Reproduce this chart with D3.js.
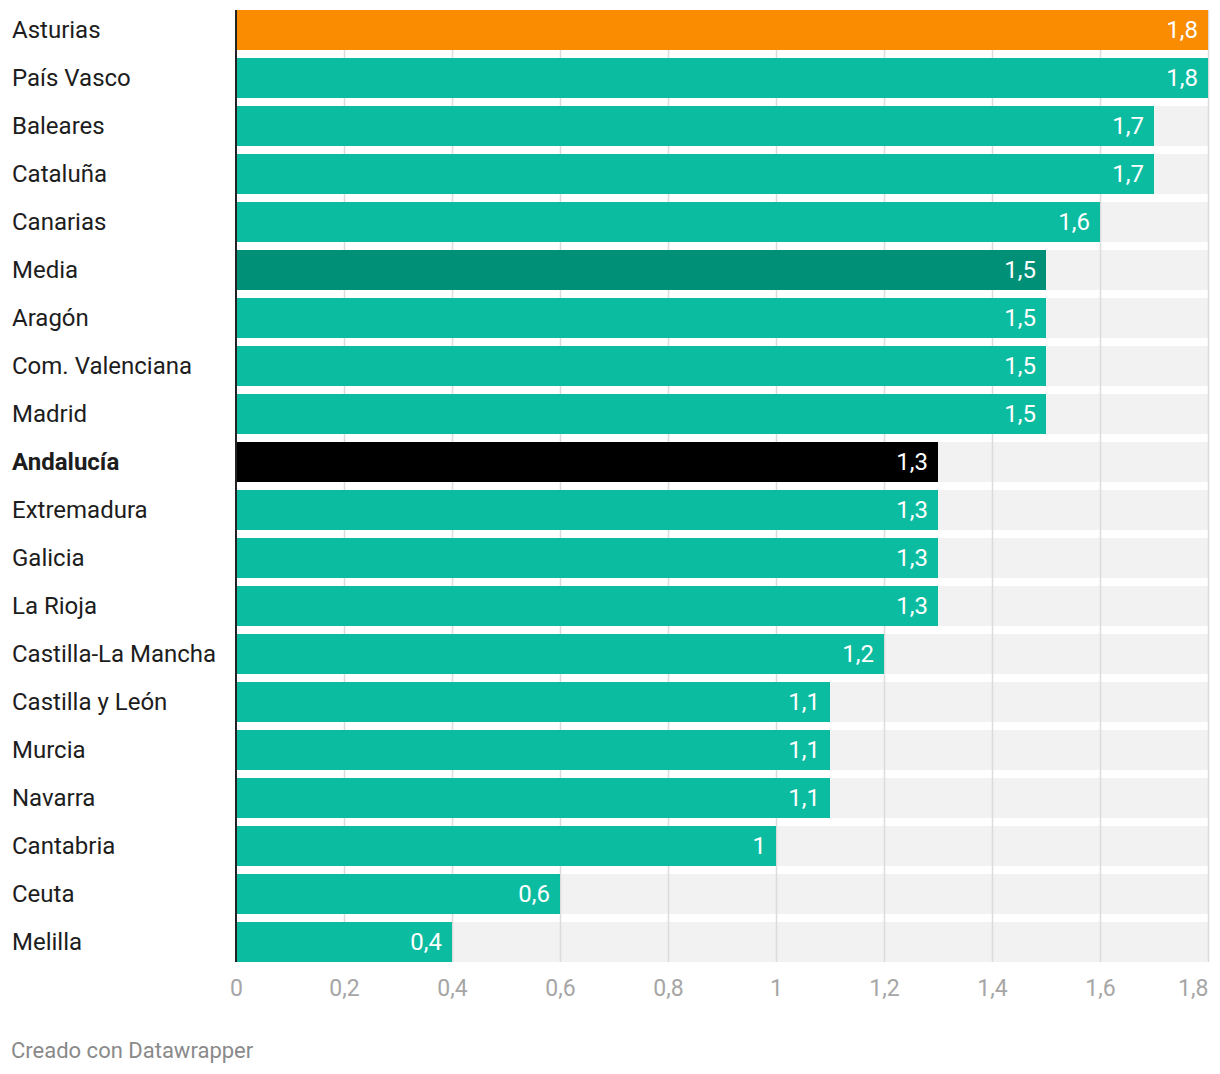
<!DOCTYPE html>
<html><head><meta charset="utf-8">
<script src="https://cdn.jsdelivr.net/npm/d3@7"></script>
<style>body{margin:0;background:#fff;font-family:Roboto,sans-serif;}</style>
</head><body>
<svg id="chart" width="1220" height="1074"></svg>
<script>
const categories = ["Asturias","País Vasco","Baleares","Cataluña","Canarias","Media","Aragón","Com. Valenciana","Madrid","Andalucía","Extremadura","Galicia","La Rioja","Castilla-La Mancha","Castilla y León","Murcia","Navarra","Cantabria","Ceuta","Melilla"];
const values = [1.8,1.8,1.7,1.7,1.6,1.5,1.5,1.5,1.5,1.3,1.3,1.3,1.3,1.2,1.1,1.1,1.1,1,0.6,0.4];
const tickValues = [0,0.2,0.4,0.6,0.8,1,1.2,1.4,1.6,1.8];
const highlight = {"Asturias":"#f98c00","Media":"#008f77","Andalucía":"#000000"};
const boldLabels = ["Andalucía"];

(function(){
const svg = d3.select("#chart");
const mLeft = 236, mRight = 1208, mTop = 10, rowH = 48, gap = 8;
const x = d3.scaleLinear().domain([0,1.8]).range([mLeft,mRight]);
const y = d3.scaleBand().domain(categories)
  .range([mTop, mTop + rowH*categories.length - gap]).paddingInner(gap/rowH).paddingOuter(0);
const bH = y.bandwidth();
const fmt = v => String(v).replace(".", ",");

// background rows
svg.append("g").selectAll("rect").data(categories).join("rect")
  .attr("x", mLeft).attr("y", d => y(d)).attr("width", mRight-mLeft).attr("height", bH)
  .attr("fill", "#f2f2f2");

// gridlines
const bottom = y(categories[categories.length-1]) + bH;
svg.append("g").selectAll("line").data(tickValues.slice(1)).join("line")
  .attr("x1", d => Math.round(x(d))+0.5).attr("x2", d => Math.round(x(d))+0.5)
  .attr("y1", mTop).attr("y2", bottom)
  .attr("stroke", "#dcdcdc").attr("stroke-width", 1.5);

// bars
svg.append("g").selectAll("rect").data(categories).join("rect")
  .attr("x", x(0)).attr("y", d => y(d))
  .attr("width", (d,i) => x(values[i]) - x(0)).attr("height", bH)
  .attr("fill", d => highlight[d] || "#0bbca0");

// value labels
svg.append("g").selectAll("text").data(categories).join("text")
  .attr("x", (d,i) => x(values[i]) - 10).attr("y", d => y(d) + bH/2)
  .attr("dy", "0.32em").attr("text-anchor", "end")
  .attr("fill", "#fff").attr("font-size", 24)
  .text((d,i) => fmt(values[i]));

// category labels
svg.append("g").selectAll("text").data(categories).join("text")
  .attr("x", 12).attr("y", d => y(d) + bH/2)
  .attr("dy", "0.32em")
  .attr("fill", "#1d1d1d").attr("font-size", 24)
  .attr("font-weight", d => boldLabels.includes(d) ? "bold" : "normal")
  .text(d => d);

// baseline
svg.append("line").attr("x1", x(0)).attr("x2", x(0)).attr("y1", mTop).attr("y2", bottom)
  .attr("stroke", "#222").attr("stroke-width", 2);

// x axis
const axis = d3.axisBottom(x).tickValues(tickValues).tickSize(0).tickFormat(fmt);
const ax = svg.append("g").attr("transform", `translate(0,${bottom+15})`).call(axis);
ax.select(".domain").remove();
ax.selectAll("text").attr("font-size", 23).attr("fill", "#a6a6a6").attr("font-family", "Roboto, sans-serif")
  .attr("text-anchor", (d,i) => i === tickValues.length-1 ? "end" : "middle");

// footer
svg.append("text").attr("x", 11).attr("y", 1058).attr("fill", "#8a8a8a").attr("font-size", 22)
  .text("Creado con Datawrapper");
})();
</script>
</body></html>
